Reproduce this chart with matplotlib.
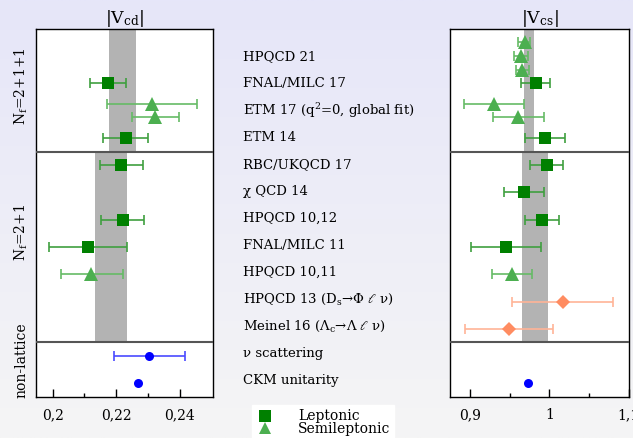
import numpy as np
import matplotlib
matplotlib.use("Agg")
import matplotlib.pyplot as plt
from matplotlib.lines import Line2D

plt.rcParams['font.family'] = ['DejaVu Serif', 'DejaVu Sans', 'Noto Sans']
plt.rcParams['mathtext.fontset'] = 'dejavuserif'

# ---- row labels (top to bottom) ----
labels = [
    "HPQCD 21",
    "FNAL/MILC 17",
    "ETM 17 (q$^2$=0, global fit)",
    "ETM 14",
    "RBC/UKQCD 17",
    "\u03c7 QCD 14",
    "HPQCD 10,12",
    "FNAL/MILC 11",
    "HPQCD 10,11",
    "HPQCD 13 (D$_\\mathrm{s}$\u2192\u03a6 $\\ell$ \u03bd)",
    "Meinel 16 (\u039b$_\\mathrm{c}$\u2192\u039b $\\ell$ \u03bd)",
    "\u03bd scattering",
    "CKM unitarity",
]

# ---- |Vcd| results ----
vcd_row = [1, 2, 2, 3, 4, 6, 7, 8, 11, 12]
vcd_sub = [0, -0.24, 0.25, 0, 0, 0, 0, 0, 0, 0]
vcd_val = [0.2174, 0.2313, 0.2323, 0.2230, 0.2214, 0.2221, 0.2111, 0.2122, 0.2303, 0.2267]
vcd_lo = [0.2119, 0.2171, 0.2250, 0.2158, 0.2148, 0.2151, 0.1988, 0.2025, 0.2192, 0.2267]
vcd_hi = [0.2230, 0.2455, 0.2397, 0.2300, 0.2284, 0.2288, 0.2233, 0.2221, 0.2415, 0.2267]
vcd_kind = ["lep", "semi", "semi", "lep", "lep", "lep", "lep", "semi", "nonlat", "nonlat"]

# ---- |Vcs| results ----
vcs_row = [0, 0, 0, 1, 2, 2, 3, 4, 5, 6, 7, 8, 9, 10, 12]
vcs_sub = [-0.5, 0, 0.5, 0, -0.24, 0.25, 0, 0, 0, 0, 0, 0, 0, 0, 0]
vcs_val = [0.9688, 0.9637, 0.9658, 0.9827, 0.930, 0.9603, 0.9941, 0.9966,
           0.9675, 0.9903, 0.9447, 0.9527, 1.0168, 0.949, 0.973]
vcs_lo = [0.9604, 0.9553, 0.9578, 0.9646, 0.892, 0.9287, 0.9688, 0.9755,
          0.9427, 0.9696, 0.9008, 0.9278, 0.9527, 0.8928, 0.973]
vcs_hi = [0.9759, 0.9730, 0.9743, 1.0013, 0.968, 0.9928, 1.0194, 1.0177,
          0.9933, 1.0122, 0.989, 0.9776, 1.081, 1.005, 0.973]
vcs_kind = ["semi", "semi", "semi", "lep", "semi", "semi", "lep", "lep",
            "lep", "lep", "lep", "semi", "baryon", "baryon", "nonlat"]

# ---- averages (grey bands) per section ----
vcd_band = [(0.2177, 0.2263), (0.2133, 0.2235)]
vcs_band = [(0.9675, 0.9810), (0.9658, 0.9984)]

# section boundaries in row units
y_top, sep1, sep2, y_bot = -0.98, 3.51, 10.50, 12.49

styles = {
    "lep": dict(marker="s", mfc="#008000", mec="#008000", ms=9, ecolor="#3f9f3f"),
    "semi": dict(marker="^", mfc="#4caf50", mec="#4caf50", ms=9.5, ecolor="#66bb66"),
    "baryon": dict(marker="D", mfc="#ff8c61", mec="#ff8c61", ms=7.5, ecolor="#ffb497"),
    "nonlat": dict(marker="o", mfc="#0000ff", mec="#0000ff", ms=6.5, ecolor="#4a4aff"),
}

W, H = 633, 438
fig = plt.figure(figsize=(W / 100, H / 100), dpi=100)

# background gradient
bg = fig.add_axes([0, 0, 1, 1], zorder=-10)
top = np.array([230, 230, 249]) / 255
bot = np.array([245, 245, 245]) / 255
t = np.linspace(0, 1, 256)[:, None, None]
grad = top * (1 - t) + bot * t
grad = np.repeat(grad, 2, axis=1)
bg.imshow(grad, aspect="auto", extent=[0, 1, 0, 1])
bg.set_axis_off()


def px_box(x0, x1, y0, y1):
    return [x0 / W, 1 - y1 / H, (x1 - x0) / W, (y1 - y0) / H]


def panel(rect, rows, subs, vals, lo, hi, kinds, bands, xlim, major, minor, ticklabels, title):
    ax = fig.add_axes(rect)
    ax.set_facecolor("white")
    ax.set_xlim(*xlim)
    ax.set_ylim(y_bot, y_top)
    for (b0, b1), (s0, s1) in zip(bands, [(y_top, sep1), (sep1, sep2)]):
        ax.fill_between([b0, b1], s0, s1, color="#b3b3b3", lw=0, zorder=1)
    for s in (sep1, sep2):
        ax.axhline(s, color="#555555", lw=1.5, zorder=3)
    for r, s, v, l, h, k in zip(rows, subs, vals, lo, hi, kinds):
        st = styles[k]
        y = r + s
        if h > l:
            ax.errorbar(v, y, xerr=[[v - l], [h - v]], fmt="none", ecolor=st["ecolor"],
                        elinewidth=1.2, capsize=3.3, capthick=1.2, zorder=4)
        ax.plot(v, y, linestyle="none", marker=st["marker"], ms=st["ms"],
                mfc=st["mfc"], mec=st["mec"], mew=0, zorder=5)
    ax.set_yticks([])
    ax.set_xticks(major)
    ax.set_xticks(minor, minor=True)
    ax.set_xticklabels(ticklabels, fontsize=10)
    ax.tick_params(axis="x", which="major", direction="in", length=6, width=1, pad=8)
    ax.tick_params(axis="x", which="minor", direction="in", length=3, width=1)
    for sp in ax.spines.values():
        sp.set_linewidth(1.0)
    ax.set_title(title, fontsize=12.5, pad=4)
    return ax


ax1 = panel(px_box(35.7, 212.7, 29.3, 396.7), vcd_row, vcd_sub, vcd_val, vcd_lo, vcd_hi,
            vcd_kind, vcd_band, (0.1947, 0.2503), [0.20, 0.22, 0.24], [0.21, 0.23],
            ["0,2", "0,22", "0,24"], r"$|\mathrm{V}_{\mathrm{cd}}|$")
ax2 = panel(px_box(450.3, 628.5, 29.3, 396.7), vcs_row, vcs_sub, vcs_val, vcs_lo, vcs_hi,
            vcs_kind, vcs_band, (0.8747, 1.1), [0.9, 1.0, 1.1], [0.95, 1.05],
            ["0,9", "1", "1,1"], r"$|\mathrm{V}_{\mathrm{cs}}|$")

# row labels between the panels
for i, lab in enumerate(labels):
    y_px = 56.7 + 27.0 * i
    fig.text(242.7 / W, 1 - y_px / H, lab, ha="left", va="center", fontsize=9.5)

# section labels on the left
for txt, y_px in [("N$_\\mathrm{f}$=2+1+1", 86), ("N$_\\mathrm{f}$=2+1", 232), ("non-lattice", 360)]:
    fig.text(21 / W, 1 - y_px / H, txt, rotation=90, ha="center", va="center", fontsize=10)

# legend
handles = [
    Line2D([], [], linestyle="none", marker="s", ms=8, mfc="#008000", mec="#008000", mew=0),
    Line2D([], [], linestyle="none", marker="^", ms=9, mfc="#4caf50", mec="#4caf50", mew=0),
]
leg = fig.legend(handles, ["Leptonic", "Semileptonic"], loc="lower left",
                 bbox_to_anchor=(252 / W, -0.005), frameon=True, fancybox=False,
                 edgecolor="white", facecolor="white", framealpha=1, fontsize=10,
                 handletextpad=1.8, labelspacing=-0.1, borderpad=0.3, handlelength=1.2,
                 borderaxespad=0)

fig.savefig("out.png", dpi=100)
